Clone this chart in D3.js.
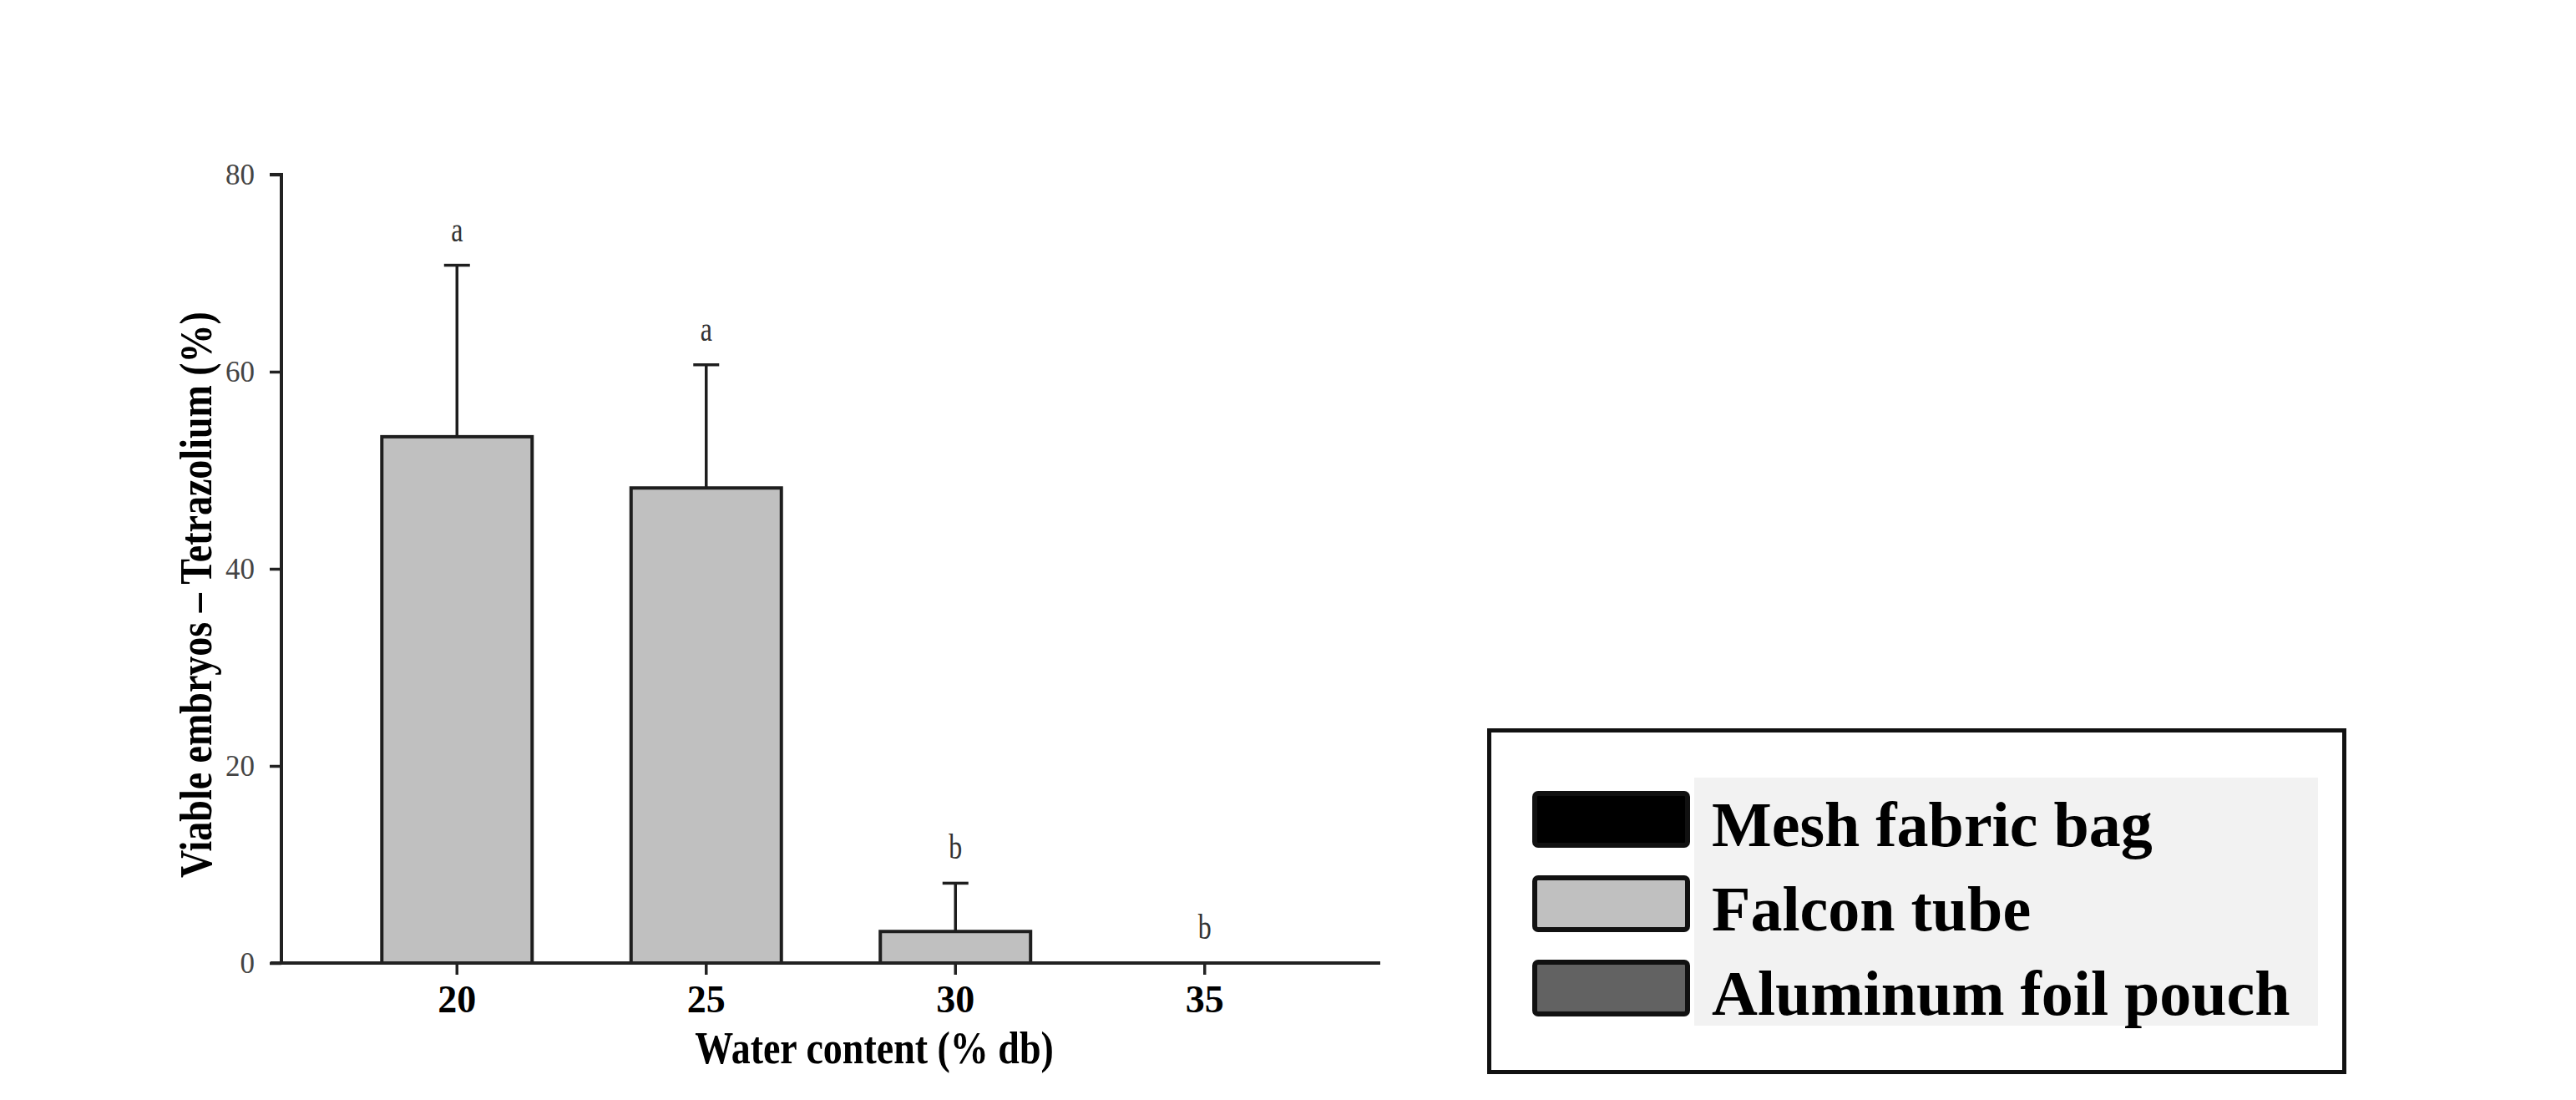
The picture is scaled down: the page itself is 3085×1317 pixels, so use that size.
<!DOCTYPE html>
<html>
<head>
<meta charset="utf-8">
<script src="https://cdn.jsdelivr.net/npm/d3@7"></script>
<style>
  html, body { margin: 0; padding: 0; background: #ffffff; }
  svg { display: block; }
</style>
</head>
<body>
<svg id="chart" width="3085" height="1317"></svg>
<script>
// ---- data ----
const categories = ["20", "25", "30", "35"];
const means      = [53.4, 48.2, 3.2, 0];
const errors     = [17.4, 12.5, 4.9, 0];
const letters    = ["a", "a", "b", "b"];
const yTicks     = [0, 20, 40, 60, 80];
const legendLabels = ["Mesh fabric bag", "Falcon tube", "Aluminum foil pouch"];
const legendColors = ["#000000", "#c0c0c0", "#626262"];
const xTitle = "Water content (% db)";
const yTitle = "Viable embryos \u2013 Tetrazolium (%)";

const serif = "'Liberation Serif', 'Times New Roman', Times, serif";
const svg = d3.select("#chart");

const x = d3.scaleBand().domain(categories).range([337, 1653])
  .paddingInner(0.397).paddingOuter(0.403).align(0.5);
const y = d3.scaleLinear().domain([0, 80]).range([1153, 209]);

// ---- bars ----
svg.append("g").selectAll("rect").data(categories).join("rect")
  .attr("x", d => x(d))
  .attr("y", (d, i) => y(means[i]))
  .attr("width", x.bandwidth())
  .attr("height", (d, i) => y(0) - y(means[i]))
  .attr("fill", "#c0c0c0")
  .attr("stroke", "#1e1e1e")
  .attr("stroke-width", 4)
  .style("display", (d, i) => means[i] > 0 ? null : "none");

// ---- error bars ----
const eb = svg.append("g").attr("stroke", "#1e1e1e").attr("stroke-width", 3.5);
categories.forEach((c, i) => {
  if (errors[i] <= 0) return;
  const cx = x(c) + x.bandwidth() / 2;
  eb.append("line").attr("x1", cx).attr("x2", cx)
    .attr("y1", y(means[i])).attr("y2", y(means[i] + errors[i]));
  eb.append("line").attr("x1", cx - 15.5).attr("x2", cx + 15.5)
    .attr("y1", y(means[i] + errors[i])).attr("y2", y(means[i] + errors[i]));
});

// ---- significance letters ----
svg.append("g").selectAll("text").data(categories).join("text")
  .attr("transform", (d, i) => `translate(${x(d) + x.bandwidth() / 2},${y(means[i] + errors[i]) - 29}) scale(1,1.35)`)
  .attr("text-anchor", "middle")
  .attr("font-family", serif)
  .attr("font-size", 32)
  .attr("fill", "#333")
  .text((d, i) => letters[i]);

// ---- y axis ----
const yAxis = svg.append("g").attr("transform", "translate(337,0)")
  .call(d3.axisLeft(y).tickValues(yTicks).tickSize(14).tickPadding(18).tickFormat(d3.format("d")));
yAxis.select(".domain").attr("stroke", "#222").attr("stroke-width", 4).attr("d", `M-14,${y(80)}H0V${y(0)}`);
yAxis.selectAll(".tick line").attr("stroke", "#222").attr("stroke-width", 3.5);
yAxis.selectAll(".tick text").attr("font-family", serif).attr("font-size", 35)
  .attr("fill", "#444").attr("dy", "0.34em");

// ---- x axis ----
const xAxis = svg.append("g").attr("transform", `translate(0,${y(0)})`)
  .call(d3.axisBottom(x).tickSize(14).tickSizeOuter(0));
xAxis.select(".domain").attr("stroke", "#222").attr("stroke-width", 4).attr("d", "M324,0H1653");
xAxis.selectAll(".tick line").attr("stroke", "#222").attr("stroke-width", 3.5);
xAxis.selectAll(".tick text").attr("font-family", serif).attr("font-size", 46)
  .attr("font-weight", "bold").attr("fill", "#000").attr("y", 59).attr("dy", 0);

// ---- axis titles ----
svg.append("text")
  .attr("transform", "translate(1047,1273) scale(1,1.2)")
  .attr("text-anchor", "middle")
  .attr("font-family", serif).attr("font-size", 46).attr("font-weight", "bold")
  .attr("fill", "#000").text(xTitle);

svg.append("text")
  .attr("transform", "translate(253,712) rotate(-90) scale(1,1.18)")
  .attr("text-anchor", "middle")
  .attr("font-family", serif).attr("font-size", 46).attr("font-weight", "bold")
  .attr("fill", "#000").text(yTitle);

// ---- legend ----
const lg = svg.append("g");
lg.append("rect").attr("x", 1783.5).attr("y", 874.5).attr("width", 1024).attr("height", 409)
  .attr("fill", "#fff").attr("stroke", "#111").attr("stroke-width", 5);
lg.append("rect").attr("x", 2029).attr("y", 931).attr("width", 747).attr("height", 297)
  .attr("fill", "#f2f2f2");
const ly = d3.scalePoint().domain(legendLabels).range([981, 1183]);
lg.selectAll("rect.sw").data(legendLabels).join("rect").attr("class", "sw")
  .attr("x", 1838).attr("y", d => ly(d) - 31).attr("width", 183).attr("height", 62)
  .attr("rx", 4)
  .attr("fill", (d, i) => legendColors[i]).attr("stroke", "#111").attr("stroke-width", 6);
lg.selectAll("text").data(legendLabels).join("text")
  .attr("x", 2050).attr("y", d => ly(d) + 32)
  .attr("font-family", serif).attr("font-size", 76).attr("font-weight", "bold")
  .attr("fill", "#000").text(d => d);
</script>
</body>
</html>
